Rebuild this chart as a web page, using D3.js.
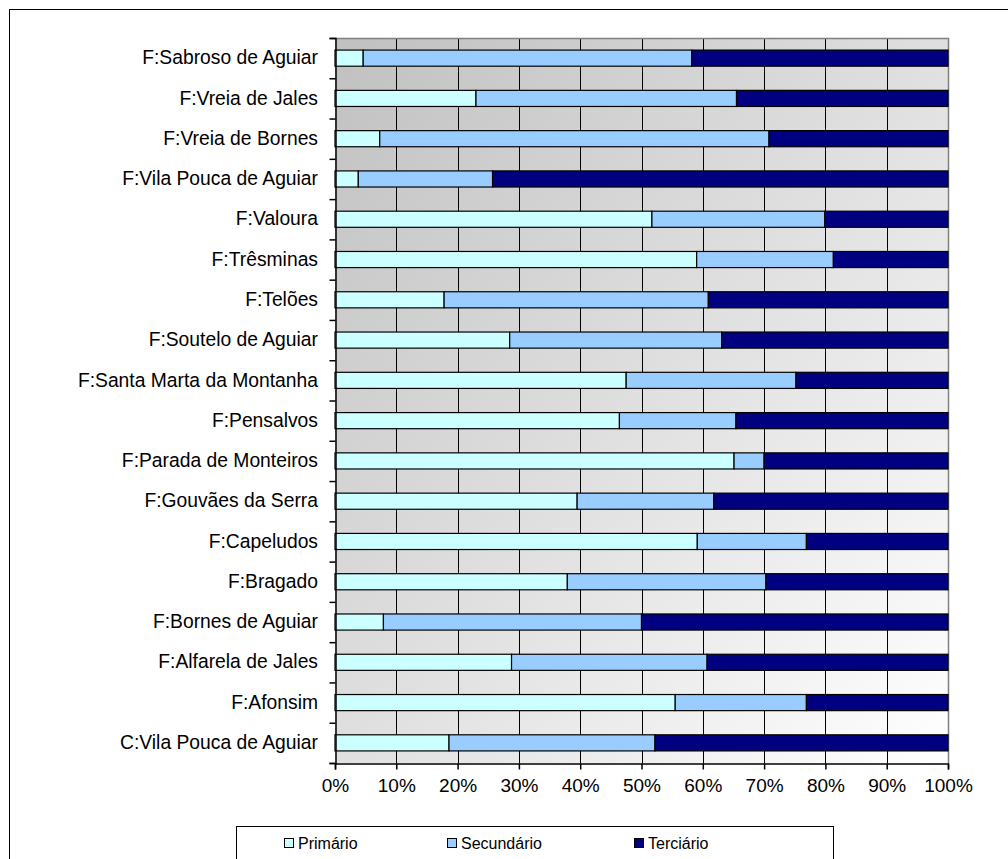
<!DOCTYPE html>
<html>
<head>
<meta charset="utf-8">
<script src="https://cdn.jsdelivr.net/npm/d3@7"></script>
<style>
    body { margin: 0; background: #fff; }
    svg { display: block; font-family: "Liberation Sans", Arial, sans-serif; }
</style>
</head>
<body>
<svg id="chart"></svg>
<script>
"use strict";

const width = 1008;
const height = 859;

// categories, top to bottom
const categories = [
    "F:Sabroso de Aguiar", "F:Vreia de Jales", "F:Vreia de Bornes",
    "F:Vila Pouca de Aguiar", "F:Valoura", "F:Trêsminas", "F:Telões",
    "F:Soutelo de Aguiar", "F:Santa Marta da Montanha", "F:Pensalvos",
    "F:Parada de Monteiros", "F:Gouvães da Serra", "F:Capeludos",
    "F:Bragado", "F:Bornes de Aguiar", "F:Alfarela de Jales",
    "F:Afonsim", "C:Vila Pouca de Aguiar"
];

// shares in %
const primario = [4.6, 23.0, 7.3, 3.8, 51.7, 59.0, 17.8, 28.5, 47.5, 46.4, 65.1, 39.5, 59.1, 37.9, 7.9, 28.8, 55.5, 18.6];
const secundario = [53.6, 42.5, 63.5, 21.9, 28.2, 22.3, 43.1, 34.6, 27.7, 19.0, 4.9, 22.3, 17.8, 32.4, 42.1, 31.9, 21.4, 33.6];
const terciario = [41.8, 34.5, 29.2, 74.3, 20.1, 18.7, 39.1, 36.9, 24.8, 34.6, 30.0, 38.2, 23.1, 29.7, 50.0, 39.3, 23.1, 47.8];

const seriesNames = ["Primário", "Secundário", "Terciário"];
const seriesColors = ["#ccffff", "#99ccff", "#000080"];
const xTicks = [0, 10, 20, 30, 40, 50, 60, 70, 80, 90, 100];

const plot = { left: 335, top: 38, right: 948, bottom: 763 };

const rows = categories.map((c, i) => ({
    cat: c,
    "Primário": primario[i],
    "Secundário": secundario[i],
    "Terciário": terciario[i]
}));

const stacked = d3.stack()
    .keys(seriesNames)
    .offset(d3.stackOffsetExpand)(rows);

const svg = d3.select("#chart")
    .attr("width", width)
    .attr("height", height);

// outer frame (continues past the window)
svg.append("rect")
    .attr("x", 9.5).attr("y", 9.5)
    .attr("width", 1020).attr("height", 880)
    .attr("fill", "none")
    .attr("stroke", "#000");

const x = d3.scaleLinear()
    .domain([0, 1])
    .range([plot.left, plot.right]);

const y = d3.scaleBand()
    .domain(categories)
    .range([plot.top, plot.bottom])
    .paddingInner(0.6)
    .paddingOuter(0.3);

const yEdges = d3.scaleLinear()
    .domain([0, categories.length])
    .range([plot.top, plot.bottom]);

// background gradient
const grad = svg.append("defs").append("linearGradient")
    .attr("id", "bg")
    .attr("x1", "0").attr("y1", "0")
    .attr("x2", "1").attr("y2", "1");
grad.append("stop").attr("offset", "0%").attr("stop-color", "#c0c0c0");
grad.append("stop").attr("offset", "100%").attr("stop-color", "#ffffff");

svg.append("rect")
    .attr("x", plot.left).attr("y", plot.top)
    .attr("width", plot.right - plot.left)
    .attr("height", plot.bottom - plot.top)
    .attr("fill", "url(#bg)");

// vertical gridlines
svg.append("g")
    .selectAll("line")
    .data(xTicks.slice(1, -1))
    .enter()
    .append("line")
    .attr("x1", d => Math.round(x(d / 100)) + 0.5)
    .attr("x2", d => Math.round(x(d / 100)) + 0.5)
    .attr("y1", plot.top)
    .attr("y2", plot.bottom)
    .attr("stroke", "#000");

// plot border top/right
svg.append("path")
    .attr("d", `M${plot.left},${plot.top + 0.5}H${plot.right + 0.5}V${plot.bottom}`)
    .attr("fill", "none")
    .attr("stroke", "#808080")
    .attr("stroke-width", 1.5);

// bars
svg.append("g")
    .selectAll("g")
    .data(stacked)
    .enter()
    .append("g")
    .attr("fill", (d, i) => seriesColors[i])
    .selectAll("rect")
    .data(d => d)
    .enter()
    .append("rect")
    .attr("x", d => x(d[0]))
    .attr("y", d => y(d.data.cat))
    .attr("width", d => x(d[1]) - x(d[0]))
    .attr("height", y.bandwidth())
    .attr("stroke", "#000")
    .attr("stroke-width", 1.2);

// left axis: ticks at band edges
svg.append("g")
    .attr("transform", `translate(${plot.left + 0.5}, 0)`)
    .call(d3.axisLeft(yEdges).ticks(categories.length).tickFormat("").tickSize(6))
    .call(g => g.selectAll("path, line").attr("stroke", "#000").attr("stroke-width", 1.5));

// category labels
svg.append("g")
    .attr("transform", `translate(${plot.left}, 0)`)
    .call(d3.axisLeft(y).tickSize(0).tickPadding(17))
    .call(g => g.select(".domain").remove())
    .call(g => g.selectAll("text")
        .attr("font-size", 19.3)
        .attr("font-family", "Liberation Sans, Arial, sans-serif")
        .attr("fill", "#000"));

// bottom axis
svg.append("g")
    .attr("transform", `translate(0, ${plot.bottom + 0.5})`)
    .call(d3.axisBottom(x)
        .tickValues(xTicks.map(d => d / 100))
        .tickFormat(d => Math.round(d * 100) + "%")
        .tickSize(6)
        .tickPadding(9))
    .call(g => g.selectAll("path, line").attr("stroke", "#000").attr("stroke-width", 1.5))
    .call(g => g.selectAll("text")
        .attr("font-size", 19)
        .attr("font-family", "Liberation Sans, Arial, sans-serif")
        .attr("fill", "#000"));

// legend
const legend = svg.append("g");
legend.append("rect")
    .attr("x", 236.5).attr("y", 826.5)
    .attr("width", 597).attr("height", 60)
    .attr("fill", "#fff")
    .attr("stroke", "#000");

const legendX = [284, 447, 634];
const items = legend.selectAll("g.item")
    .data(seriesNames)
    .enter()
    .append("g")
    .attr("class", "item")
    .attr("transform", (d, i) => `translate(${legendX[i]}, 843)`);
items.append("rect")
    .attr("x", 0.5).attr("y", -4.5)
    .attr("width", 9).attr("height", 9)
    .attr("fill", (d, i) => seriesColors[i])
    .attr("stroke", "#000");
items.append("text")
    .attr("x", 14)
    .attr("dy", "0.35em")
    .attr("font-size", 16)
    .text(d => d);
</script>
</body>
</html>
